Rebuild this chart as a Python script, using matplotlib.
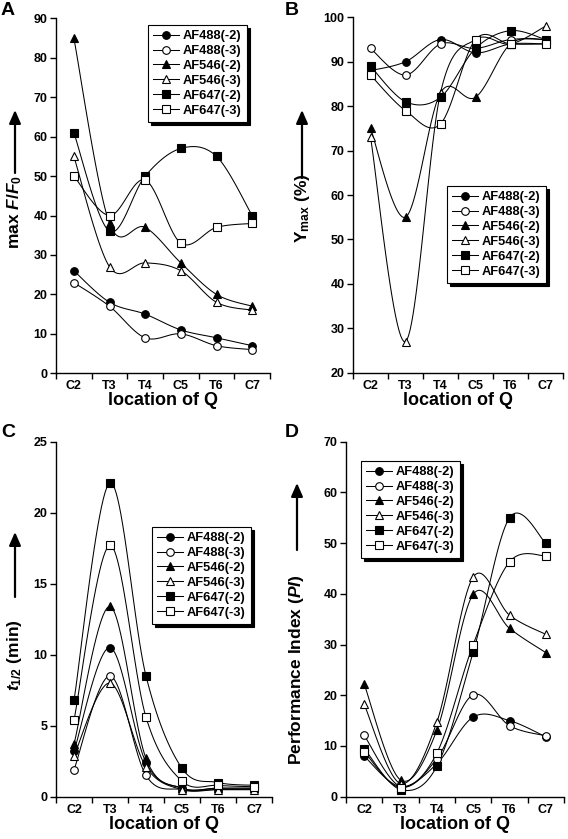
import numpy as np
import matplotlib
matplotlib.use("Agg")
import matplotlib.pyplot as plt
from matplotlib.lines import Line2D

plt.rcParams['font.family'] = ['Liberation Sans', 'DejaVu Sans']
plt.rcParams['font.weight'] = 'bold'
plt.rcParams['mathtext.fontset'] = 'custom'
plt.rcParams['mathtext.rm'] = 'Liberation Sans:bold'
plt.rcParams['mathtext.it'] = 'Liberation Sans:bold:italic'
plt.rcParams['mathtext.bf'] = 'Liberation Sans:bold'

categories = ["C2", "T3", "T4", "C5", "T6", "C7"]
series_names = ["AF488(-2)", "AF488(-3)", "AF546(-2)", "AF546(-3)", "AF647(-2)", "AF647(-3)"]

# Panel A: max F/F0
a_af488_2 = [26, 18, 15, 11, 9, 7]
a_af488_3 = [23, 17, 9, 10, 7, 6]
a_af546_2 = [85, 38, 37, 28, 20, 17]
a_af546_3 = [55, 27, 28, 26, 18, 16]
a_af647_2 = [61, 36, 50, 57, 55, 40]
a_af647_3 = [50, 40, 49, 33, 37, 38]

# Panel B: Ymax (%)
b_af488_2 = [88, 90, 95, 92, 94, 94]
b_af488_3 = [93, 87, 94, 93, 95, 95]
b_af546_2 = [75, 55, 83, 82, 94, 95]
b_af546_3 = [73, 27, 83, 95, 94, 98]
b_af647_2 = [89, 81, 82, 93, 97, 95]
b_af647_3 = [87, 79, 76, 95, 94, 94]

# Panel C: t1/2 (min)
c_af488_2 = [3.2, 10.5, 2.4, 0.6, 0.6, 0.6]
c_af488_3 = [1.9, 8.5, 1.5, 0.5, 0.5, 0.5]
c_af546_2 = [3.7, 13.4, 2.7, 0.6, 0.6, 0.6]
c_af546_3 = [2.9, 8.0, 2.1, 0.5, 0.5, 0.5]
c_af647_2 = [6.8, 22.1, 8.5, 2.0, 1.0, 0.8]
c_af647_3 = [5.4, 17.7, 5.6, 1.1, 0.8, 0.7]

# Panel D: Performance Index
d_af488_2 = [8.0, 2.0, 6.5, 15.7, 15.0, 11.8]
d_af488_3 = [12.1, 2.0, 7.5, 20.1, 14.0, 12.0]
d_af546_2 = [22.2, 3.3, 13.1, 39.9, 33.2, 28.4]
d_af546_3 = [18.2, 2.6, 14.7, 43.3, 35.8, 32.0]
d_af647_2 = [9.5, 1.4, 6.0, 28.5, 55.0, 50.0]
d_af647_3 = [8.9, 1.8, 8.6, 30.0, 46.3, 47.5]

markers = ['o', 'o', '^', '^', 's', 's']
filled = [True, False, True, False, True, False]
msizes = [5.5, 5.5, 6, 6, 5.5, 5.5]

W, H = 568, 839
fig = plt.figure(figsize=(W / 100, H / 100), dpi=100)


def px_axes(x0, top, x1, bottom):
    return fig.add_axes([x0 / W, 1 - bottom / H, (x1 - x0) / W, (bottom - top) / H])


def smooth(xs, ys, sx, sy, n=24):
    P = np.column_stack([np.asarray(xs, float) * sx, np.asarray(ys, float) * sy])
    m = len(P)
    out = [P[0]]
    for i in range(m - 1):
        p0 = P[i - 1] if i > 0 else P[i]
        p1 = P[i]
        p2 = P[i + 1]
        p3 = P[i + 2] if i + 2 < m else P[i + 1]
        b1 = p1 + (p2 - p0) / 6.0
        b2 = p2 - (p3 - p1) / 6.0
        t = np.linspace(0, 1, n)[1:, None]
        seg = ((1 - t) ** 3) * p1 + 3 * ((1 - t) ** 2) * t * b1 + 3 * (1 - t) * t ** 2 * b2 + t ** 3 * p2
        out.extend(seg)
    out = np.array(out)
    return out[:, 0] / sx, out[:, 1] / sy


def panel(box, data, ylim, yticks, legend_xy, letter, letter_xy, ylabel, ylabel_y, arrow, ylabel_x):
    x0, top, x1, bottom = box
    ax = px_axes(x0, top, x1, bottom)
    ax.set_xlim(-0.5, 5.5)
    ax.set_ylim(*ylim)
    sx = (x1 - x0) / 6.0
    sy = (bottom - top) / (ylim[1] - ylim[0])
    xs = np.arange(len(categories))
    handles = []
    for k, ys in enumerate(data):
        lx, ly = smooth(xs, ys, sx, sy)
        ax.plot(lx, ly, color='black', lw=0.75, zorder=2)
        ax.plot(xs, ys, linestyle='none', marker=markers[k], ms=msizes[k],
                mfc='black' if filled[k] else 'white', mec='black', mew=0.8, zorder=3)
        handles.append(Line2D([], [], color='black', lw=0.75, marker=markers[k], ms=msizes[k],
                              mfc='black' if filled[k] else 'white', mec='black', mew=0.8))
    for s in ['top', 'right']:
        ax.spines[s].set_visible(False)
    for s in ['left', 'bottom']:
        ax.spines[s].set_linewidth(1.0)
    ax.set_yticks(yticks)
    ax.set_yticklabels([str(v) for v in yticks], fontsize=9, fontweight='bold')
    ax.tick_params(axis='y', direction='out', length=4, width=1, pad=2)
    ax.set_xticks(np.arange(-0.5, 6.0, 1.0))
    ax.set_xticklabels([])
    ax.tick_params(axis='x', which='major', direction='out', length=4, width=1)
    ax.set_xticks(xs, minor=True)
    ax.set_xticklabels(categories, minor=True, fontsize=9, fontweight='bold')
    ax.tick_params(axis='x', which='minor', length=0, pad=5)
    ax.set_xlabel("location of Q", fontsize=13, fontweight='bold', labelpad=0)
    leg = ax.legend(handles, series_names, loc='upper left',
                    bbox_to_anchor=(legend_xy[0] / W, 1 - legend_xy[1] / H),
                    bbox_transform=fig.transFigure, borderaxespad=0,
                    prop={'size': 9.3, 'weight': 'bold'}, handlelength=2.0,
                    handletextpad=0.3, labelspacing=0.22, borderpad=0.4,
                    fancybox=False, framealpha=1, edgecolor='black',
                    shadow={'facecolor': 'black', 'edgecolor': 'black', 'alpha': 1})
    leg.get_frame().set_linewidth(0.8)
    fig.text(letter_xy[0] / W, 1 - letter_xy[1] / H, letter, fontsize=14, fontweight='bold',
             ha='left', va='top')
    fig.text(ylabel_x / W, 1 - ylabel_y / H, ylabel, rotation=90, fontsize=12.5,
             fontweight='bold', ha='center', va='center')
    ax.annotate('', xy=(ylabel_x / W, 1 - arrow[0] / H), xytext=(ylabel_x / W, 1 - arrow[1] / H),
                xycoords='figure fraction', textcoords='figure fraction',
                arrowprops=dict(arrowstyle='-|>,head_length=0.8,head_width=0.35', color='black',
                                lw=1.6, shrinkA=0, shrinkB=0))
    return ax


panel((56, 18.3, 270, 373.3),
      [a_af488_2, a_af488_3, a_af546_2, a_af546_3, a_af647_2, a_af647_3],
      (0, 90), list(range(0, 91, 10)), (148, 25), 'A', (1, 2),
      r'max $\mathit{F/F}_\mathrm{0}$', 212, (110, 173), 15)

panel((353, 17.3, 563, 372.7),
      [b_af488_2, b_af488_3, b_af546_2, b_af546_3, b_af647_2, b_af647_3],
      (20, 100), list(range(20, 101, 10)), (447, 186), 'B', (285, 2),
      r'$\mathrm{Y}_\mathrm{max}$ (%)', 208, (110, 178), 302)

panel((56, 441.7, 272, 796.7),
      [c_af488_2, c_af488_3, c_af546_2, c_af546_3, c_af647_2, c_af647_3],
      (0, 25), list(range(0, 26, 5)), (152, 527), 'C', (1, 424),
      r'$\mathit{t}_\mathrm{1/2}$ (min)', 655, (532, 597), 15)

panel((346, 441.7, 564, 796.7),
      [d_af488_2, d_af488_3, d_af546_2, d_af546_3, d_af647_2, d_af647_3],
      (0, 70), list(range(0, 71, 10)), (361, 461), 'D', (285, 424),
      r'Performance Index ($\mathit{PI}$)', 670, (483, 550), 297)

fig.savefig('out.png', dpi=100)
